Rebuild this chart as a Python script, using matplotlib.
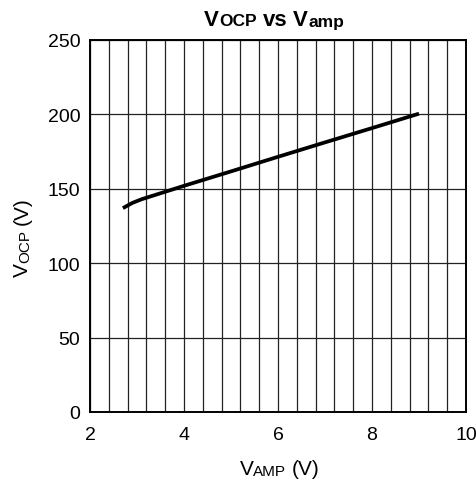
import matplotlib
matplotlib.use("Agg")
import matplotlib.pyplot as plt
import numpy as np

plt.rcParams['font.family'] = ['Liberation Sans', 'DejaVu Sans']

v_amp = [2.7, 2.9, 3.1, 3.3, 4.0, 5.0, 6.0, 7.0, 8.0, 9.0]
v_ocp = [137, 140.5, 143, 145, 152, 161.7, 171.5, 181.2, 190.8, 200.5]

x_ticks = [2, 4, 6, 8, 10]
y_ticks = [0, 50, 100, 150, 200, 250]

W, H = 477, 485
fig = plt.figure(figsize=(W/100, H/100), dpi=100)
ax = fig.add_axes([90/W, 1-413/H, (466-90)/W, (413-41)/H])

ax.plot(v_amp, v_ocp, color='black', linewidth=2.7, solid_capstyle='butt')

ax.set_xlim(2, 10)
ax.set_ylim(0, 250)
ax.set_xticks(x_ticks)
ax.set_yticks(y_ticks)
ax.set_xticks(np.arange(2, 10.001, 0.4), minor=True)
ax.grid(True, which='both', axis='x', color='#222222', linewidth=0.9)
ax.grid(True, which='major', axis='y', color='#222222', linewidth=0.9)
ax.tick_params(which='both', length=0, labelsize=14)
ax.tick_params(axis='y', pad=7)
ax.tick_params(axis='x', pad=10)
for s in ax.spines.values():
    s.set_linewidth(1.4)
    s.set_color('black')

renderer = fig.canvas.get_renderer()


def rich(pieces, cx, cy, rotation=0):
    """pieces: list of (text, size, weight, dy_px) or ('GAP', px).
    cx, cy: centre along text direction / baseline position in pixels from top-left."""
    items = []
    total = 0.0
    for p in pieces:
        if p[0] == 'GAP':
            items.append(('GAP', p[1]))
            total += p[1]
            continue
        s, size, weight, dy = p
        t = fig.text(0, 0, s, fontsize=size, weight=weight, ha='left', va='baseline')
        w = t.get_window_extent(renderer).width
        t.remove()
        items.append((s, size, weight, dy, w))
        total += w
    pos = -total / 2
    for it in items:
        if it[0] == 'GAP':
            pos += it[1]
            continue
        s, size, weight, dy, w = it
        if rotation == 0:
            px, py = cx + pos, cy + dy
        else:
            px, py = cx + dy, cy - pos
        fig.text(px / W, 1 - py / H, s, fontsize=size, weight=weight,
                 ha='left', va='baseline', rotation=rotation, rotation_mode='anchor')
        pos += w


# title
rich([('V', 16, 'bold', 0), ('OCP', 12.5, 'bold', 1), ('GAP', 6),
      ('vs', 16, 'bold', 0), ('GAP', 6),
      ('V', 16, 'bold', 0), ('amp', 12.5, 'bold', 1)], 274, 25.5)

# x label
rich([('V', 15, 'normal', 0), ('AMP', 11, 'normal', 1), ('GAP', 5.5),
      ('(V)', 15, 'normal', 0)], 279.5, 475)

# y label
rich([('V', 15, 'normal', 0), ('OCP', 11, 'normal', 1), ('GAP', 5.5),
      ('(V)', 15, 'normal', 0)], 28, 237, rotation=90)

fig.savefig('out.png', dpi=100)
